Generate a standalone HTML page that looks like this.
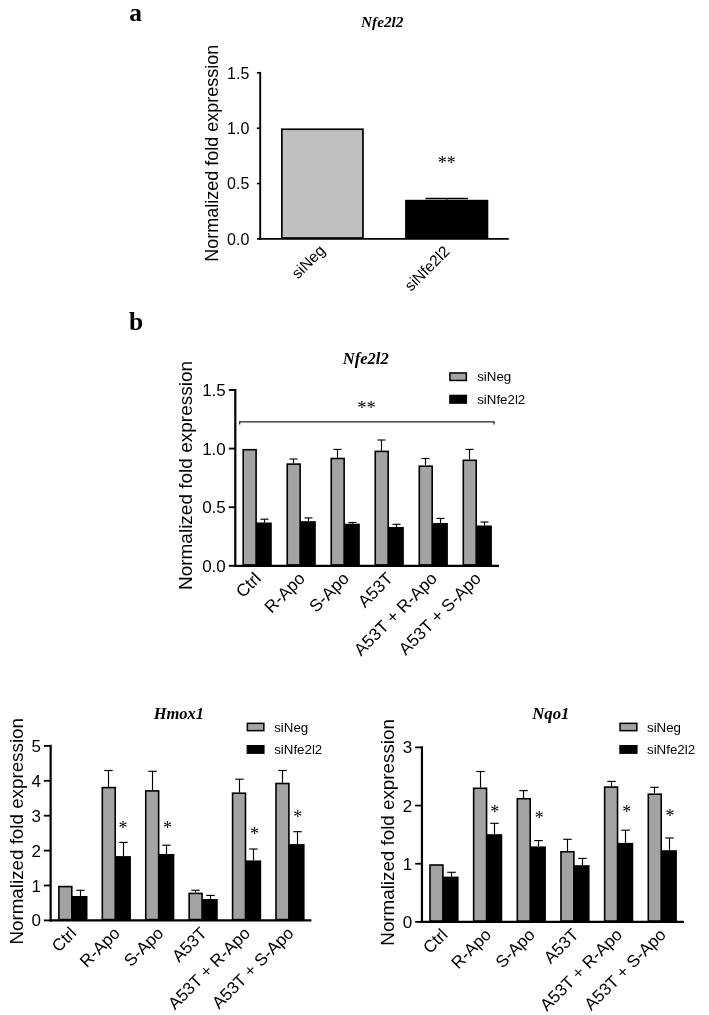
<!DOCTYPE html>
<html><head><meta charset="utf-8"><title>Figure</title>
<style>
html,body{margin:0;padding:0;background:#fff;}
body{width:709px;height:1015px;overflow:hidden;font-family:"Liberation Sans",sans-serif;}
svg{display:block;filter:grayscale(100%);}
text{font-family:"Liberation Sans",sans-serif;fill:#000;stroke:none;}
.sf{font-family:"Liberation Serif",serif;}
.b{font-weight:bold;} .i{font-style:italic;}
.e{text-anchor:end;} .m{text-anchor:middle;}
</style></head><body>
<svg width="709" height="1015" viewBox="0 0 709 1015">
<rect x="0" y="0" width="709" height="1015" fill="#fff" stroke="none"/>
<g stroke="#000" fill="none">
<rect x="281.85" y="129.25" width="81.1" height="108.8" fill="#c0c0c0" stroke-width="1.7"/>
<path d="M446.7 199.8L446.7 198.5" stroke-width="1.3"/>
<path d="M425.45 198.5L467.95 198.5" stroke-width="1.3"/>
<rect x="405.95" y="200.65" width="81.5" height="37.4" fill="#000" stroke-width="1.7"/>
<path d="M260.2 71.9L260.2 239.85" stroke-width="1.9"/>
<path d="M259.25 238.9L508.8 238.9" stroke-width="1.9"/>
<path d="M256.9 238.9L260.2 238.9" stroke-width="1.6"/>
<text x="249.3" y="244.63" font-size="16" class="e">0.0</text>
<path d="M256.9 183.55L260.2 183.55" stroke-width="1.6"/>
<text x="249.3" y="189.28" font-size="16" class="e">0.5</text>
<path d="M256.9 128.2L260.2 128.2" stroke-width="1.6"/>
<text x="249.3" y="133.93" font-size="16" class="e">1.0</text>
<path d="M256.9 72.85L260.2 72.85" stroke-width="1.6"/>
<text x="249.3" y="78.58" font-size="16" class="e">1.5</text>
<text x="217.9" y="153.2" font-size="18" class="m" transform="rotate(-90 217.9 153.2)">Normalized fold expression</text>
<text x="326" y="251.5" font-size="15.5" class="e" transform="rotate(-45 326 251.5)">siNeg</text>
<text x="450.5" y="252.5" font-size="15.5" class="e" transform="rotate(-45 450.5 252.5)">siNfe2l2</text>
<text x="446.8" y="169" font-size="18" class="sf m">**</text>
<text x="361" y="26.8" font-size="15.3" class="sf b i">Nfe2l2</text>
<rect x="243.2" y="449.7" width="12.9" height="115.3" fill="#a3a3a3" stroke-width="1.6"/>
<path d="M264.5 522.5L264.5 519.2" stroke-width="1.15"/>
<path d="M260.5 519.2L268.5 519.2" stroke-width="1.15"/>
<rect x="256.8" y="523.3" width="14.2" height="41.7" fill="#000" stroke-width="1.6"/>
<path d="M293.5 463.3L293.5 459" stroke-width="1.15"/>
<path d="M289.5 459L297.5 459" stroke-width="1.15"/>
<rect x="287.22" y="464.1" width="12.9" height="100.9" fill="#a3a3a3" stroke-width="1.6"/>
<path d="M308.5 521.2L308.5 517.9" stroke-width="1.15"/>
<path d="M304.5 517.9L312.5 517.9" stroke-width="1.15"/>
<rect x="300.82" y="522" width="14.2" height="43" fill="#000" stroke-width="1.6"/>
<path d="M337.5 457.7L337.5 449.4" stroke-width="1.15"/>
<path d="M333.5 449.4L341.5 449.4" stroke-width="1.15"/>
<rect x="331.24" y="458.5" width="12.9" height="106.5" fill="#a3a3a3" stroke-width="1.6"/>
<path d="M352.5 523.7L352.5 522.5" stroke-width="1.15"/>
<path d="M348.5 522.5L356.5 522.5" stroke-width="1.15"/>
<rect x="344.84" y="524.5" width="14.2" height="40.5" fill="#000" stroke-width="1.6"/>
<path d="M381.5 450.6L381.5 440" stroke-width="1.15"/>
<path d="M377.5 440L385.5 440" stroke-width="1.15"/>
<rect x="375.26" y="451.4" width="12.9" height="113.6" fill="#a3a3a3" stroke-width="1.6"/>
<path d="M396.5 527L396.5 524.3" stroke-width="1.15"/>
<path d="M392.5 524.3L400.5 524.3" stroke-width="1.15"/>
<rect x="388.86" y="527.8" width="14.2" height="37.2" fill="#000" stroke-width="1.6"/>
<path d="M425.5 465.4L425.5 458.5" stroke-width="1.15"/>
<path d="M421.5 458.5L429.5 458.5" stroke-width="1.15"/>
<rect x="419.28" y="466.2" width="12.9" height="98.8" fill="#a3a3a3" stroke-width="1.6"/>
<path d="M440.5 523L440.5 518.4" stroke-width="1.15"/>
<path d="M436.5 518.4L444.5 518.4" stroke-width="1.15"/>
<rect x="432.88" y="523.8" width="14.2" height="41.2" fill="#000" stroke-width="1.6"/>
<path d="M469.5 459.5L469.5 449.4" stroke-width="1.15"/>
<path d="M465.5 449.4L473.5 449.4" stroke-width="1.15"/>
<rect x="463.3" y="460.3" width="12.9" height="104.7" fill="#a3a3a3" stroke-width="1.6"/>
<path d="M484.5 525.5L484.5 522" stroke-width="1.15"/>
<path d="M480.5 522L488.5 522" stroke-width="1.15"/>
<rect x="476.9" y="526.3" width="14.2" height="38.7" fill="#000" stroke-width="1.6"/>
<path d="M235.3 388.9L235.3 566.9" stroke-width="2.2"/>
<path d="M234.2 565.8L499 565.8" stroke-width="2.2"/>
<path d="M228.8 565.8L235.3 565.8" stroke-width="1.9"/>
<text x="225.8" y="571.89" font-size="17" class="e">0.0</text>
<path d="M228.8 507.2L235.3 507.2" stroke-width="1.9"/>
<text x="225.8" y="513.29" font-size="17" class="e">0.5</text>
<path d="M228.8 448.6L235.3 448.6" stroke-width="1.9"/>
<text x="225.8" y="454.69" font-size="17" class="e">1.0</text>
<path d="M228.8 390L235.3 390" stroke-width="1.9"/>
<text x="225.8" y="396.09" font-size="17" class="e">1.5</text>
<text x="192" y="475.5" font-size="19" class="m" transform="rotate(-90 192 475.5)">Normalized fold expression</text>
<text x="262" y="579.5" font-size="17.2" class="e" transform="rotate(-45 262 579.5)">Ctrl</text>
<text x="306.02" y="579.5" font-size="17.2" class="e" transform="rotate(-45 306.02 579.5)">R-Apo</text>
<text x="350.04" y="579.5" font-size="17.2" class="e" transform="rotate(-45 350.04 579.5)">S-Apo</text>
<text x="394.06" y="579.5" font-size="17.2" class="e" transform="rotate(-45 394.06 579.5)">A53T</text>
<text x="438.08" y="579.5" font-size="17.2" class="e" transform="rotate(-45 438.08 579.5)">A53T + R-Apo</text>
<text x="482.1" y="579.5" font-size="17.2" class="e" transform="rotate(-45 482.1 579.5)">A53T + S-Apo</text>
<text x="366.6" y="413.6" font-size="18.5" class="sf m">**</text>
<text x="342.7" y="363.5" font-size="16.6" class="sf b i">Nfe2l2</text>
<rect x="449.95" y="372.95" width="16.4" height="7.5" fill="#a3a3a3" stroke-width="1.5"/>
<rect x="449.8" y="395.3" width="16.7" height="7.9" fill="#000" stroke-width="1.2"/>
<text transform="translate(477.2 380.8) scale(1.11 1)" font-size="12">siNeg</text>
<text transform="translate(477.2 403.5) scale(1.11 1)" font-size="12">siNfe2l2</text>
<rect x="58.9" y="886.6" width="12.9" height="33" fill="#a3a3a3" stroke-width="1.6"/>
<path d="M80.5 896L80.5 890.3" stroke-width="1.15"/>
<path d="M76.25 890.3L84.75 890.3" stroke-width="1.15"/>
<rect x="72.5" y="896.8" width="14.2" height="22.8" fill="#000" stroke-width="1.6"/>
<path d="M108.5 786.8L108.5 770.5" stroke-width="1.15"/>
<path d="M104.25 770.5L112.75 770.5" stroke-width="1.15"/>
<rect x="102.32" y="787.6" width="12.9" height="132" fill="#a3a3a3" stroke-width="1.6"/>
<path d="M123.5 856.1L123.5 842.4" stroke-width="1.15"/>
<path d="M119.25 842.4L127.75 842.4" stroke-width="1.15"/>
<rect x="115.92" y="856.9" width="14.2" height="62.7" fill="#000" stroke-width="1.6"/>
<path d="M152.5 790.1L152.5 771.3" stroke-width="1.15"/>
<path d="M148.25 771.3L156.75 771.3" stroke-width="1.15"/>
<rect x="145.74" y="790.9" width="12.9" height="128.7" fill="#a3a3a3" stroke-width="1.6"/>
<path d="M166.5 854L166.5 845.2" stroke-width="1.15"/>
<path d="M162.25 845.2L170.75 845.2" stroke-width="1.15"/>
<rect x="159.34" y="854.8" width="14.2" height="64.8" fill="#000" stroke-width="1.6"/>
<path d="M195.5 892.6L195.5 890.3" stroke-width="1.15"/>
<path d="M191.25 890.3L199.75 890.3" stroke-width="1.15"/>
<rect x="189.16" y="893.4" width="12.9" height="26.2" fill="#a3a3a3" stroke-width="1.6"/>
<path d="M210.5 899L210.5 895.4" stroke-width="1.15"/>
<path d="M206.25 895.4L214.75 895.4" stroke-width="1.15"/>
<rect x="202.76" y="899.8" width="14.2" height="19.8" fill="#000" stroke-width="1.6"/>
<path d="M239.5 792.4L239.5 779.2" stroke-width="1.15"/>
<path d="M235.25 779.2L243.75 779.2" stroke-width="1.15"/>
<rect x="232.58" y="793.2" width="12.9" height="126.4" fill="#a3a3a3" stroke-width="1.6"/>
<path d="M253.5 860.4L253.5 849" stroke-width="1.15"/>
<path d="M249.25 849L257.75 849" stroke-width="1.15"/>
<rect x="246.18" y="861.2" width="14.2" height="58.4" fill="#000" stroke-width="1.6"/>
<path d="M282.5 782.7L282.5 770.5" stroke-width="1.15"/>
<path d="M278.25 770.5L286.75 770.5" stroke-width="1.15"/>
<rect x="276" y="783.5" width="12.9" height="136.1" fill="#a3a3a3" stroke-width="1.6"/>
<path d="M297.5 844.1L297.5 831.7" stroke-width="1.15"/>
<path d="M293.25 831.7L301.75 831.7" stroke-width="1.15"/>
<rect x="289.6" y="844.9" width="14.2" height="74.7" fill="#000" stroke-width="1.6"/>
<path d="M50.65 744.8L50.65 921.5" stroke-width="2.2"/>
<path d="M49.55 920.4L311.4 920.4" stroke-width="2.2"/>
<path d="M43.85 920.4L50.65 920.4" stroke-width="1.8"/>
<text x="40.85" y="926.49" font-size="17" class="e">0</text>
<path d="M43.85 885.5L50.65 885.5" stroke-width="1.8"/>
<text x="40.85" y="891.59" font-size="17" class="e">1</text>
<path d="M43.85 850.6L50.65 850.6" stroke-width="1.8"/>
<text x="40.85" y="856.69" font-size="17" class="e">2</text>
<path d="M43.85 815.7L50.65 815.7" stroke-width="1.8"/>
<text x="40.85" y="821.79" font-size="17" class="e">3</text>
<path d="M43.85 780.8L50.65 780.8" stroke-width="1.8"/>
<text x="40.85" y="786.89" font-size="17" class="e">4</text>
<path d="M43.85 745.9L50.65 745.9" stroke-width="1.8"/>
<text x="40.85" y="751.99" font-size="17" class="e">5</text>
<text x="23.2" y="831.3" font-size="18.8" class="m" transform="rotate(-90 23.2 831.3)">Normalized fold expression</text>
<text x="77.5" y="934.2" font-size="17.0" class="e" transform="rotate(-45 77.5 934.2)">Ctrl</text>
<text x="120.92" y="934.2" font-size="17.0" class="e" transform="rotate(-45 120.92 934.2)">R-Apo</text>
<text x="164.34" y="934.2" font-size="17.0" class="e" transform="rotate(-45 164.34 934.2)">S-Apo</text>
<text x="207.76" y="934.2" font-size="17.0" class="e" transform="rotate(-45 207.76 934.2)">A53T</text>
<text x="251.18" y="934.2" font-size="17.0" class="e" transform="rotate(-45 251.18 934.2)">A53T + R-Apo</text>
<text x="294.6" y="934.2" font-size="17.0" class="e" transform="rotate(-45 294.6 934.2)">A53T + S-Apo</text>
<text x="123.1" y="833.8" font-size="18" class="sf m">*</text>
<text x="167.6" y="833.8" font-size="18" class="sf m">*</text>
<text x="254.5" y="840.4" font-size="18" class="sf m">*</text>
<text x="297.7" y="823.1" font-size="18" class="sf m">*</text>
<text x="153.7" y="718.8" font-size="16.5" class="sf b i">Hmox1</text>
<rect x="247.35" y="723.35" width="16.5" height="7.3" fill="#a3a3a3" stroke-width="1.5"/>
<rect x="247.2" y="745.6" width="16.8" height="7.7" fill="#000" stroke-width="1.2"/>
<text transform="translate(274.2 731.6) scale(1.11 1)" font-size="12">siNeg</text>
<text transform="translate(274.2 753.8) scale(1.11 1)" font-size="12">siNfe2l2</text>
<rect x="430" y="865" width="12.9" height="56.1" fill="#a3a3a3" stroke-width="1.6"/>
<path d="M451.5 876.6L451.5 872.3" stroke-width="1.15"/>
<path d="M447.25 872.3L455.75 872.3" stroke-width="1.15"/>
<rect x="443.6" y="877.4" width="14.2" height="43.7" fill="#000" stroke-width="1.6"/>
<path d="M480.5 787.5L480.5 771.5" stroke-width="1.15"/>
<path d="M476.25 771.5L484.75 771.5" stroke-width="1.15"/>
<rect x="473.66" y="788.3" width="12.9" height="132.8" fill="#a3a3a3" stroke-width="1.6"/>
<path d="M494.5 834.2L494.5 823.3" stroke-width="1.15"/>
<path d="M490.25 823.3L498.75 823.3" stroke-width="1.15"/>
<rect x="487.26" y="835" width="14.2" height="86.1" fill="#000" stroke-width="1.6"/>
<path d="M523.5 797.9L523.5 790.6" stroke-width="1.15"/>
<path d="M519.25 790.6L527.75 790.6" stroke-width="1.15"/>
<rect x="517.32" y="798.7" width="12.9" height="122.4" fill="#a3a3a3" stroke-width="1.6"/>
<path d="M538.5 846.4L538.5 840.6" stroke-width="1.15"/>
<path d="M534.25 840.6L542.75 840.6" stroke-width="1.15"/>
<rect x="530.92" y="847.2" width="14.2" height="73.9" fill="#000" stroke-width="1.6"/>
<path d="M567.5 851L567.5 839.3" stroke-width="1.15"/>
<path d="M563.25 839.3L571.75 839.3" stroke-width="1.15"/>
<rect x="560.98" y="851.8" width="12.9" height="69.3" fill="#a3a3a3" stroke-width="1.6"/>
<path d="M582.5 865.2L582.5 858.4" stroke-width="1.15"/>
<path d="M578.25 858.4L586.75 858.4" stroke-width="1.15"/>
<rect x="574.58" y="866" width="14.2" height="55.1" fill="#000" stroke-width="1.6"/>
<path d="M611.5 786.3L611.5 781.4" stroke-width="1.15"/>
<path d="M607.25 781.4L615.75 781.4" stroke-width="1.15"/>
<rect x="604.64" y="787.1" width="12.9" height="134" fill="#a3a3a3" stroke-width="1.6"/>
<path d="M625.5 842.9L625.5 830.2" stroke-width="1.15"/>
<path d="M621.25 830.2L629.75 830.2" stroke-width="1.15"/>
<rect x="618.24" y="843.7" width="14.2" height="77.4" fill="#000" stroke-width="1.6"/>
<path d="M654.5 793.4L654.5 787.3" stroke-width="1.15"/>
<path d="M650.25 787.3L658.75 787.3" stroke-width="1.15"/>
<rect x="648.3" y="794.2" width="12.9" height="126.9" fill="#a3a3a3" stroke-width="1.6"/>
<path d="M669.5 850.2L669.5 838" stroke-width="1.15"/>
<path d="M665.25 838L673.75 838" stroke-width="1.15"/>
<rect x="661.9" y="851" width="14.2" height="70.1" fill="#000" stroke-width="1.6"/>
<path d="M421.95 746.29L421.95 923" stroke-width="2.2"/>
<path d="M420.85 921.9L683.9 921.9" stroke-width="2.2"/>
<path d="M415.15 921.9L421.95 921.9" stroke-width="1.8"/>
<text x="412.15" y="927.99" font-size="17" class="e">0</text>
<path d="M415.15 863.73L421.95 863.73" stroke-width="1.8"/>
<text x="412.15" y="869.82" font-size="17" class="e">1</text>
<path d="M415.15 805.56L421.95 805.56" stroke-width="1.8"/>
<text x="412.15" y="811.65" font-size="17" class="e">2</text>
<path d="M415.15 747.39L421.95 747.39" stroke-width="1.8"/>
<text x="412.15" y="753.48" font-size="17" class="e">3</text>
<text x="394.2" y="832.4" font-size="18.8" class="m" transform="rotate(-90 394.2 832.4)">Normalized fold expression</text>
<text x="448.6" y="935.7" font-size="17.0" class="e" transform="rotate(-45 448.6 935.7)">Ctrl</text>
<text x="492.26" y="935.7" font-size="17.0" class="e" transform="rotate(-45 492.26 935.7)">R-Apo</text>
<text x="535.92" y="935.7" font-size="17.0" class="e" transform="rotate(-45 535.92 935.7)">S-Apo</text>
<text x="579.58" y="935.7" font-size="17.0" class="e" transform="rotate(-45 579.58 935.7)">A53T</text>
<text x="623.24" y="935.7" font-size="17.0" class="e" transform="rotate(-45 623.24 935.7)">A53T + R-Apo</text>
<text x="666.9" y="935.7" font-size="17.0" class="e" transform="rotate(-45 666.9 935.7)">A53T + S-Apo</text>
<text x="494.7" y="818.1" font-size="18" class="sf m">*</text>
<text x="539.2" y="824.4" font-size="18" class="sf m">*</text>
<text x="626.7" y="818.1" font-size="18" class="sf m">*</text>
<text x="669.9" y="821.9" font-size="18" class="sf m">*</text>
<text x="532.2" y="718.8" font-size="16.8" class="sf b i">Nqo1</text>
<rect x="620.05" y="723.35" width="16.8" height="7.3" fill="#a3a3a3" stroke-width="1.5"/>
<rect x="619.9" y="745.6" width="17.1" height="7.7" fill="#000" stroke-width="1.2"/>
<text transform="translate(647 731.6) scale(1.11 1)" font-size="12">siNeg</text>
<text transform="translate(647 753.8) scale(1.11 1)" font-size="12">siNfe2l2</text>
<path d="M239.1 421.8L494.6 421.8" stroke-width="1.2" stroke="#222"/>
<path d="M239.7 421.8L239.7 424.6" stroke-width="1.2" stroke="#222"/>
<path d="M494 421.8L494 424.6" stroke-width="1.2" stroke="#222"/>
<text x="129.2" y="21.3" font-size="25.5" class="sf b">a</text>
<text x="129.1" y="329.9" font-size="25.5" class="sf b">b</text>
</g>
</svg>
</body></html>
